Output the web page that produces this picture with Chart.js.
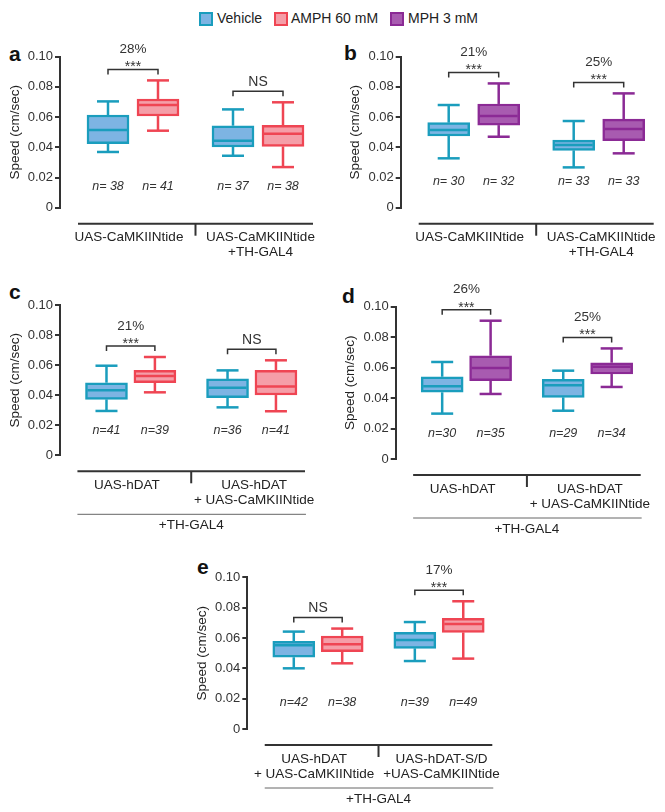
<!DOCTYPE html>
<html>
<head>
<meta charset="utf-8">
<script src="https://cdn.jsdelivr.net/npm/chart.js@4.4.1/dist/chart.umd.min.js"></script>
<style>
  body { margin: 0; background: #fff; font-family: 'Liberation Sans', Arial, sans-serif; }
  #page { position: relative; width: 665px; height: 812px; overflow: hidden; }
  canvas { position: absolute; }
  .letter { position: absolute; font-weight: bold; font-size: 21px; line-height: 21px; color: #111; }
  .lg-box { position: absolute; top: 12px; width: 10px; height: 10px; border: 2px solid; }
  .lg-text { position: absolute; top: 10px; font-size: 14px; line-height: 16px; color: #222; }
</style>
</head>
<body>
<div id="page">
  <div class="lg-box" style="left:199px;border-color:#1a9dbd;background:#7db4e3"></div>
  <div class="lg-text" style="left:217px">Vehicle</div>
  <div class="lg-box" style="left:274px;border-color:#ef4553;background:#f59ea8"></div>
  <div class="lg-text" style="left:291px">AMPH 60 mM</div>
  <div class="lg-box" style="left:390px;border-color:#8b2a95;background:#a85bb0"></div>
  <div class="lg-text" style="left:408px">MPH 3 mM</div>

  <div class="letter" style="left:9px;top:43px">a</div>
  <div class="letter" style="left:344px;top:42px">b</div>
  <div class="letter" style="left:9px;top:281px">c</div>
  <div class="letter" style="left:342px;top:285px">d</div>
  <div class="letter" style="left:197px;top:556px">e</div>
</div>
<script>
// shared axis
const yTicks = [0, 0.02, 0.04, 0.06, 0.08, 0.10];
const yTitle = "Speed (cm/sec)";

// panel a
const aGroups = [["UAS-CaMKIINtide"], ["UAS-CaMKIINtide", "+TH-GAL4"]];
const aDrugs = ["Vehicle", "AMPH 60 mM", "Vehicle", "AMPH 60 mM"];
const aMin = [0.0369, 0.0510, 0.0344, 0.0269];
const aQ1 = [0.0424, 0.0607, 0.0402, 0.0406];
const aMed = [0.0514, 0.0680, 0.0444, 0.0490];
const aQ3 = [0.0614, 0.0720, 0.0543, 0.0545];
const aMax = [0.0704, 0.0843, 0.0651, 0.0698];
const aN = ["n= 38", "n= 41", "n= 37", "n= 38"];
const aSig = [["28%", "***"], ["NS"]];

// panel b
const bGroups = [["UAS-CaMKIINtide"], ["UAS-CaMKIINtide", "+TH-GAL4"]];
const bDrugs = ["Vehicle", "MPH 3 mM", "Vehicle", "MPH 3 mM"];
const bMin = [0.0327, 0.0470, 0.0267, 0.0360];
const bQ1 = [0.0475, 0.0547, 0.0380, 0.0444];
const bMed = [0.0514, 0.0607, 0.0415, 0.0521];
const bQ3 = [0.0563, 0.0687, 0.0448, 0.0587];
const bMax = [0.0680, 0.0823, 0.0574, 0.0757];
const bN = ["n= 30", "n= 32", "n= 33", "n= 33"];
const bSig = [["21%", "***"], ["25%", "***"]];

// panel c
const cGroups = [["UAS-hDAT"], ["UAS-hDAT", "+ UAS-CaMKIINtide"]];
const cDrugs = ["Vehicle", "AMPH 60 mM", "Vehicle", "AMPH 60 mM"];
const cMin = [0.0295, 0.0419, 0.0319, 0.0293];
const cQ1 = [0.0372, 0.0483, 0.0384, 0.0401];
const cMed = [0.0432, 0.0528, 0.0450, 0.0457];
const cQ3 = [0.0483, 0.0565, 0.0508, 0.0565];
const cMax = [0.0596, 0.0654, 0.0565, 0.0632];
const cN = ["n=41", "n=39", "n=36", "n=41"];
const cSig = [["21%", "***"], ["NS"]];

// panel d
const dGroups = [["UAS-hDAT"], ["UAS-hDAT", "+ UAS-CaMKIINtide"]];
const dDrugs = ["Vehicle", "MPH 3 mM", "Vehicle", "MPH 3 mM"];
const dMin = [0.0298, 0.0427, 0.0317, 0.0473];
const dQ1 = [0.0438, 0.0514, 0.0405, 0.0558];
const dMed = [0.0477, 0.0597, 0.0484, 0.0606];
const dQ3 = [0.0540, 0.0678, 0.0523, 0.0632];
const dMax = [0.0637, 0.0908, 0.0580, 0.0726];
const dN = ["n=30", "n=35", "n=29", "n=34"];
const dSig = [["26%", "***"], ["25%", "***"]];

// panel e
const eGroups = [["UAS-hDAT", "+ UAS-CaMKIINtide"], ["UAS-hDAT-S/D", "+UAS-CaMKIINtide"]];
const eDrugs = ["Vehicle", "AMPH 60 mM", "Vehicle", "AMPH 60 mM"];
const eMin = [0.0400, 0.0433, 0.0448, 0.0464];
const eQ1 = [0.0473, 0.0510, 0.0532, 0.0637];
const eMed = [0.0552, 0.0558, 0.0587, 0.0692];
const eQ3 = [0.0578, 0.0613, 0.0637, 0.0730];
const eMax = [0.0642, 0.0662, 0.0705, 0.0842];
const eN = ["n=42", "n=38", "n=39", "n=49"];
const eSig = [["NS"], ["17%", "***"]];

const footer = "+TH-GAL4";

const strokeColors = { "Vehicle": "#1a9dbd", "AMPH 60 mM": "#ef4553", "MPH 3 mM": "#8b2a95" };
const fillColors = { "Vehicle": "#7db4e3", "AMPH 60 mM": "#f59ea8", "MPH 3 mM": "#a85bb0" };

const FONT = "'Liberation Sans', Arial, sans-serif";
Chart.defaults.font.family = FONT;

// box slots on the x scale: two pairs with a gap between them
const xPos = [1, 2, 3.5, 4.5];
const pairX = [[1, 2], [3.5, 4.5]];
const groupLabelX = [1.42, 4.05];
const BOX_W = 42;

const panels = [
  { id: "a", groups: aGroups, drugs: aDrugs, min: aMin, q1: aQ1, med: aMed, q3: aQ3, max: aMax, n: aN, sig: aSig, footer: null,
    left: 0, top: 30, w: 330, h: 250, axisX: 60, plotTop: 26.7, plotBottom: 177.7, plotW: 253, nOffset: 21 },
  { id: "b", groups: bGroups, drugs: bDrugs, min: bMin, q1: bQ1, med: bMed, q3: bQ3, max: bMax, n: bN, sig: bSig, footer: null,
    left: 330, top: 30, w: 335, h: 250, axisX: 70.7, plotTop: 26.7, plotBottom: 177.7, plotW: 253, nOffset: 26 },
  { id: "c", groups: cGroups, drugs: cDrugs, min: cMin, q1: cQ1, med: cMed, q3: cQ3, max: cMax, n: cN, sig: cSig, footer: footer,
    left: 0, top: 280, w: 330, h: 270, axisX: 60, plotTop: 25, plotBottom: 175.3, plotW: 245, nOffset: 25 },
  { id: "d", groups: dGroups, drugs: dDrugs, min: dMin, q1: dQ1, med: dMed, q3: dQ3, max: dMax, n: dN, sig: dSig, footer: footer,
    left: 330, top: 280, w: 335, h: 270, axisX: 65.7, plotTop: 26.7, plotBottom: 179, plotW: 245, nOffset: 25 },
  { id: "e", groups: eGroups, drugs: eDrugs, min: eMin, q1: eQ1, med: eMed, q3: eQ3, max: eMax, n: eN, sig: eSig, footer: footer,
    left: 160, top: 550, w: 345, h: 262, axisX: 87.3, plotTop: 27.3, plotBottom: 179, plotW: 245, nOffset: 26 },
];

function line(ctx, x1, y1, x2, y2) {
  ctx.beginPath();
  ctx.moveTo(x1, y1);
  ctx.lineTo(x2, y2);
  ctx.stroke();
}

// whiskers, medians, n labels, significance brackets and the group axis under each panel
const boxExtras = {
  id: "boxExtras",
  afterDatasetsDraw(chart, args, opts) {
    const p = opts.panel;
    const ctx = chart.ctx;
    const xs = chart.scales.x;
    const ys = chart.scales.y;
    const bottom = chart.chartArea.bottom;
    ctx.save();

    p.min.forEach((lo, i) => {
      const cx = xs.getPixelForValue(xPos[i]);
      ctx.strokeStyle = strokeColors[p.drugs[i]];
      ctx.lineWidth = 2.5;
      const yTop = ys.getPixelForValue(p.max[i]);
      const yLow = ys.getPixelForValue(lo);
      line(ctx, cx, ys.getPixelForValue(p.q3[i]), cx, yTop);
      line(ctx, cx, ys.getPixelForValue(p.q1[i]), cx, yLow);
      line(ctx, cx - 11, yTop, cx + 11, yTop);
      line(ctx, cx - 11, yLow, cx + 11, yLow);
      const ym = ys.getPixelForValue(p.med[i]);
      line(ctx, cx - BOX_W / 2 + 2, ym, cx + BOX_W / 2 - 2, ym);

      ctx.fillStyle = "#333";
      ctx.font = "italic 12.5px " + FONT;
      ctx.textAlign = "center";
      ctx.textBaseline = "middle";
      ctx.fillText(p.n[i], cx, bottom - p.nOffset);
    });

    // brackets
    p.sig.forEach((labels, g) => {
      const [i1, i2] = [g * 2, g * 2 + 1];
      const x1 = xs.getPixelForValue(pairX[g][0]);
      const x2 = xs.getPixelForValue(pairX[g][1]);
      const yb = Math.min(ys.getPixelForValue(p.max[i1]), ys.getPixelForValue(p.max[i2])) - 11;
      ctx.strokeStyle = "#333";
      ctx.lineWidth = 1.5;
      ctx.beginPath();
      ctx.moveTo(x1, yb + 5);
      ctx.lineTo(x1, yb);
      ctx.lineTo(x2, yb);
      ctx.lineTo(x2, yb + 5);
      ctx.stroke();
      const mid = (x1 + x2) / 2;
      ctx.fillStyle = "#333";
      ctx.textAlign = "center";
      if (labels.length === 1) {
        ctx.font = "14px " + FONT;
        ctx.textBaseline = "middle";
        ctx.fillText(labels[0], mid, yb - 9);
      } else {
        ctx.font = "13.5px " + FONT;
        ctx.textBaseline = "middle";
        ctx.fillText(labels[0], mid, yb - 20);
        ctx.font = "14px " + FONT;
        ctx.textBaseline = "alphabetic";
        ctx.fillText(labels[1], mid, yb + 2);
      }
    });

    // group axis
    const gy = bottom + 16;
    const left = xs.getPixelForValue(0.4);
    const right = xs.getPixelForValue(5.1);
    const divX = xs.getPixelForValue(2.75);
    ctx.strokeStyle = "#333";
    ctx.lineWidth = 2;
    line(ctx, left, gy, right, gy);
    line(ctx, divX, gy, divX, gy + 12);
    ctx.fillStyle = "#222";
    ctx.font = "13.5px " + FONT;
    ctx.textAlign = "center";
    ctx.textBaseline = "middle";
    p.groups.forEach((lines, g) => {
      const gx = xs.getPixelForValue(groupLabelX[g]);
      lines.forEach((t, k) => ctx.fillText(t, gx, bottom + 30 + k * 15));
    });
    if (p.footer) {
      ctx.strokeStyle = "#666";
      ctx.lineWidth = 1;
      line(ctx, left, bottom + 59, xs.getPixelForValue(5.12), bottom + 59);
      ctx.fillText(p.footer, divX, bottom + 70);
    }
    ctx.restore();
  }
};

const page = document.getElementById("page");

panels.forEach((p) => {
  const canvas = document.createElement("canvas");
  canvas.width = p.w;
  canvas.height = p.h;
  canvas.style.left = p.left + "px";
  canvas.style.top = p.top + "px";
  canvas.style.width = p.w + "px";
  canvas.style.height = p.h + "px";
  page.appendChild(canvas);

  new Chart(canvas.getContext("2d"), {
    type: "bar",
    data: {
      datasets: [{
        data: xPos.map((xv, i) => ({ x: xv, y: [p.q1[i], p.q3[i]] })),
        backgroundColor: p.drugs.map((d) => fillColors[d]),
        borderColor: p.drugs.map((d) => strokeColors[d]),
        borderWidth: 2.5,
        borderSkipped: false,
        barThickness: BOX_W,
        grouped: false,
      }],
    },
    options: {
      responsive: false,
      animation: false,
      devicePixelRatio: 1,
      layout: {
        padding: { top: p.plotTop, bottom: p.h - p.plotBottom, left: 0, right: p.w - p.axisX - p.plotW },
      },
      scales: {
        x: { type: "linear", display: false, min: 0.04, max: 5.1, offset: false },
        y: {
          min: 0,
          max: 0.1,
          afterBuildTicks: (s) => { s.ticks = yTicks.map((v) => ({ value: v })); },
          afterFit: (s) => { s.width = p.axisX; },
          ticks: {
            callback: (v) => (v === 0 ? "0" : v.toFixed(2)),
            font: { size: 13 },
            color: "#333",
            padding: 2,
          },
          grid: { drawOnChartArea: false, drawTicks: true, tickLength: 5, color: "#333", lineWidth: 2 },
          border: { display: true, color: "#333", width: 2 },
          title: {
            display: true,
            text: yTitle,
            font: { size: 13.5 },
            color: "#222",
            padding: { top: p.axisX - 45 - 8.1, bottom: 0 },
          },
        },
      },
      plugins: {
        legend: { display: false },
        tooltip: { enabled: false },
        boxExtras: { panel: p },
      },
    },
    plugins: [boxExtras],
  });
});
</script>
</body>
</html>
